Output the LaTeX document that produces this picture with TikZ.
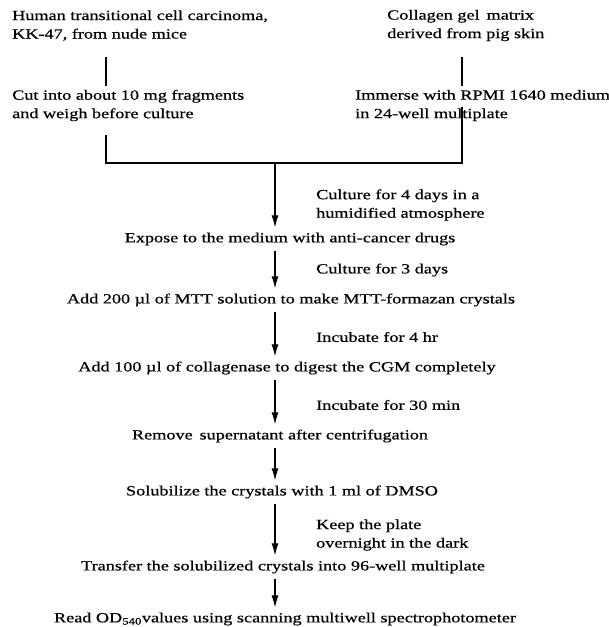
\documentclass[tikz,border=0pt]{standalone}
\usepackage{fontspec}
\setmainfont{Liberation Serif}[FakeStretch=1.3,FakeBold=0.6]
\usetikzlibrary{arrows.meta}
\begin{document}
\begin{tikzpicture}[x=1pt,y=-1pt,
    txt/.style = {font=\fontsize{14}{18.5}\selectfont, inner sep=0pt, align=left},
    stepnode/.style = {txt, inner sep=5pt},
    link/.style = {line width=1.1pt},
    flow/.style = {link, -{Latex[length=12pt,width=7pt]}}]
  \useasboundingbox (0,0) rectangle (609,627);
  \coordinate (lx) at (106,0); \coordinate (rx) at (462,0);
  \coordinate (join) at (275,163);

  \node[txt, anchor=west](tumor) at (12,25.5){Human transitional cell carcinoma,\\KK-47, from nude mice};
  \node[txt, anchor=west](cut) at (12,105.5){Cut into about 10 mg fragments\\and weigh before culture};
  \node[txt, anchor=west](gel) at (387,25.5){Collagen gel\, matrix\\derived from pig skin};
  \node[txt, anchor=west](immerse) at (355,105.5){Immerse with RPMI 1640 medium\\in 24-well multiplate};

  \node[stepnode](expose) at (290,239){Expose to the medium with anti-cancer drugs};
  \node[stepnode](mtt) at (291,300){Add 200 µl of MTT solution to make MTT-formazan crystals};
  \node[stepnode](enzyme) at (287,368){Add 100 µl of collagenase to digest the CGM completely};
  \node[stepnode](remove) at (280,436){Remove\, supernatant after centrifugation};
  \node[stepnode](dmso) at (282,492){Solubilize the crystals with 1 ml of DMSO};
  \node[stepnode](transfer) at (283,567){Transfer the solubilized crystals into 96-well multiplate};
  \node[stepnode](read) at (285,619){Read OD\textsubscript{540}values using scanning multiwell spectrophotometer};

  \node[txt, anchor=west](c4) at (316,205){Culture for 4 days in a\\humidified atmosphere};
  \node[txt, anchor=west](c3) at (316,270){Culture for 3 days};
  \node[txt, anchor=west](i4) at (316,337){Incubate for 4 hr};
  \node[txt, anchor=west](i30) at (316,405){Incubate for 30 min};
  \node[txt, anchor=west](dark) at (316,535){Keep the plate\\overnight in the dark};

  \draw[link, shorten <=16pt, shorten >=4pt] (tumor.south -| lx) -- (cut.north -| lx);
  \draw[link, shorten <=16pt, shorten >=4pt] (gel.south -| rx) -- (immerse.north -| rx);
  \draw[link, shorten <=14pt] (cut.south -| lx) |- (join) -| ([yshift=14pt]immerse.south -| rx);
  \draw[flow] (join) -- (expose.north -| join);
  \draw[flow] (expose.south -| join) -- (mtt.north -| join);
  \draw[flow] (mtt.south -| join) -- (enzyme.north -| join);
  \draw[flow] (enzyme.south -| join) -- (remove.north -| join);
  \draw[flow] (remove.south -| join) -- (dmso.north -| join);
  \draw[flow] (dmso.south -| join) -- (transfer.north -| join);
  \draw[flow] (transfer.south -| join) -- (read.north -| join);
\end{tikzpicture}
\end{document}
